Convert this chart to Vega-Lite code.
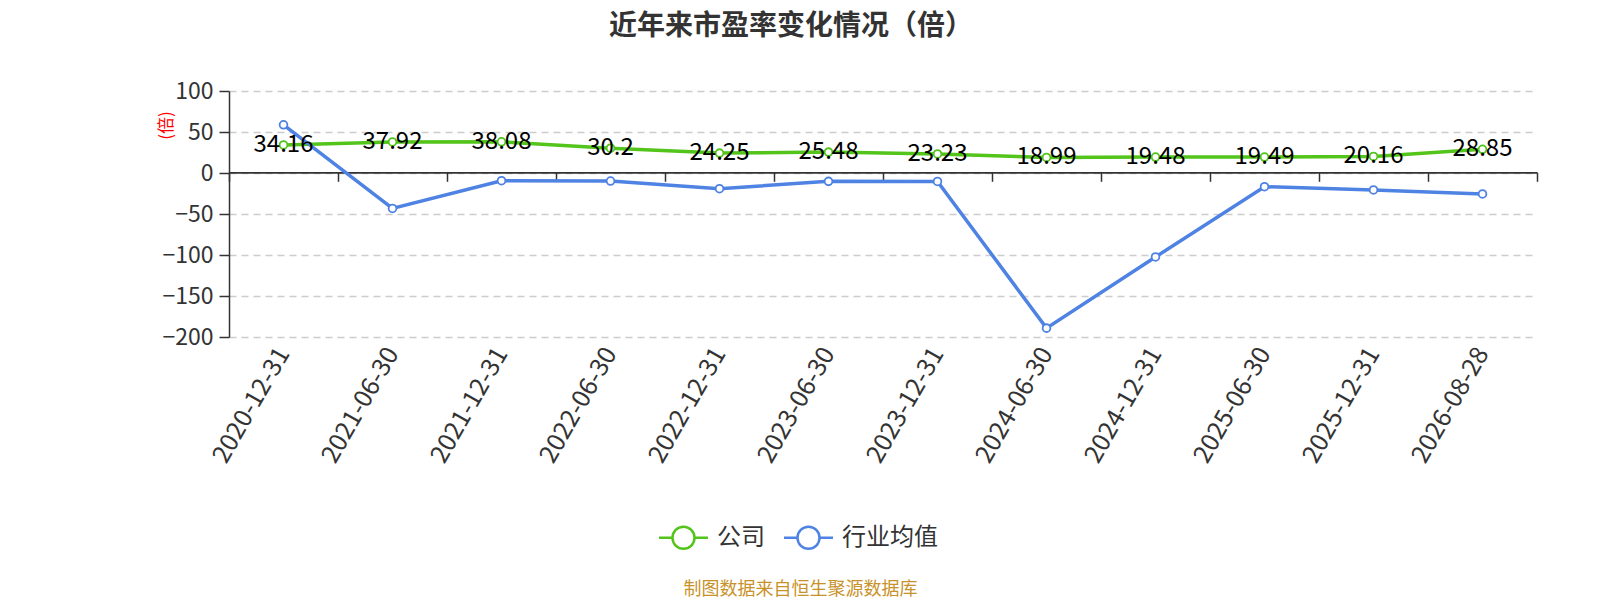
{
  "$schema": "https://vega.github.io/schema/vega-lite/v6.json",
  "description": "近年来市盈率变化情况（倍）",
  "autosize": "none",
  "width": 1308,
  "height": 246,
  "padding": {"left": 229, "top": 91, "right": 63, "bottom": 263},
  "background": "white",
  "title": {
    "text": "近年来市盈率变化情况（倍）",
    "fontSize": 28,
    "fontWeight": "bold",
    "color": "#333333",
    "anchor": "middle",
    "frame": "group",
    "dx": -92,
    "offset": 39
  },
  "data": {
    "values": [
      {"date": "2020-12-31", "series": "公司", "pe": 34.16},
      {"date": "2021-06-30", "series": "公司", "pe": 37.92},
      {"date": "2021-12-31", "series": "公司", "pe": 38.08},
      {"date": "2022-06-30", "series": "公司", "pe": 30.2},
      {"date": "2022-12-31", "series": "公司", "pe": 24.25},
      {"date": "2023-06-30", "series": "公司", "pe": 25.48},
      {"date": "2023-12-31", "series": "公司", "pe": 23.23},
      {"date": "2024-06-30", "series": "公司", "pe": 18.99},
      {"date": "2024-12-31", "series": "公司", "pe": 19.48},
      {"date": "2025-06-30", "series": "公司", "pe": 19.49},
      {"date": "2025-12-31", "series": "公司", "pe": 20.16},
      {"date": "2026-08-28", "series": "公司", "pe": 28.85},
      {"date": "2020-12-31", "series": "行业均值", "pe": 58.8},
      {"date": "2021-06-30", "series": "行业均值", "pe": -43.2},
      {"date": "2021-12-31", "series": "行业均值", "pe": -9.4},
      {"date": "2022-06-30", "series": "行业均值", "pe": -9.8},
      {"date": "2022-12-31", "series": "行业均值", "pe": -19.1},
      {"date": "2023-06-30", "series": "行业均值", "pe": -10.2},
      {"date": "2023-12-31", "series": "行业均值", "pe": -10.3},
      {"date": "2024-06-30", "series": "行业均值", "pe": -189.2},
      {"date": "2024-12-31", "series": "行业均值", "pe": -102.4},
      {"date": "2025-06-30", "series": "行业均值", "pe": -16.7},
      {"date": "2025-12-31", "series": "行业均值", "pe": -20.7},
      {"date": "2026-08-28", "series": "行业均值", "pe": -25.6}
    ]
  },
  "encoding": {
    "y": {
      "field": "pe",
      "type": "quantitative",
      "scale": {"domain": [-200, 100], "nice": false, "zero": false},
      "axis": {
        "title": "(倍)",
        "titleColor": "#ff0000",
        "titleFontSize": 17,
        "titleFontWeight": "normal",
        "titleX": -54,
        "titleY": 34,
        "titleAlign": "center",
        "values": [-200, -150, -100, -50, 0, 50, 100],
        "labelFontSize": 23,
        "labelColor": "#333333",
        "labelPadding": 6,
        "domainColor": "#333333",
        "domainWidth": 1.5,
        "tickColor": "#333333",
        "tickWidth": 1.5,
        "tickSize": 10,
        "grid": true,
        "gridColor": "#cccccc",
        "gridDash": [7, 5],
        "gridWidth": 1.3
      }
    }
  },
  "layer": [
    {
      "mark": {
        "type": "line",
        "strokeWidth": 3.5,
        "point": {"filled": false, "fill": "white", "size": 60, "strokeWidth": 1.8}
      },
      "encoding": {
        "x": {
          "field": "date",
          "type": "ordinal",
          "sort": null,
          "scale": {"type": "band", "paddingInner": 0, "paddingOuter": 0},
          "axis": {
            "orient": "bottom",
            "domain": false,
            "ticks": false,
            "grid": false,
            "labelAngle": -60,
            "labelAlign": "right",
            "labelBaseline": "middle",
            "labelFontSize": 25,
            "labelColor": "#333333",
            "labelPadding": 12,
            "title": "制图数据来自恒生聚源数据库",
            "titleColor": "#c8922a",
            "titleFontSize": 18,
            "titleFontWeight": "normal",
            "titleX": 571,
            "titleY": 252,
            "titleAlign": "center",
            "titleBaseline": "middle"
          }
        },
        "color": {
          "field": "series",
          "type": "nominal",
          "scale": {"domain": ["公司", "行业均值"], "range": ["#52c41a", "#4e82e3"]},
          "legend": {
            "title": null,
            "orient": "none",
            "direction": "horizontal",
            "legendX": 441,
            "legendY": 433,
            "padding": 0,
            "symbolType": "M-2,0L-0.9,0M0.9,0L2,0M-0.9,0A0.9,0.9,0,1,0,0.9,0A0.9,0.9,0,1,0,-0.9,0Z",
            "symbolSize": 600,
            "symbolStrokeWidth": 2.5,
            "labelFontSize": 24,
            "labelColor": "#333333",
            "labelOffset": 20,
            "columnPadding": 14,
            "encode": {"symbols": {"update": {"fill": {"value": "white"}}}}
          }
        }
      }
    },
    {
      "transform": [{"filter": "datum.series === '公司'"}],
      "mark": {
        "type": "text",
        "fontSize": 24,
        "color": "#000000",
        "baseline": "alphabetic",
        "dy": 7
      },
      "encoding": {
        "x": {
          "field": "date",
          "type": "ordinal",
          "sort": null,
          "axis": {
            "orient": "bottom",
            "offset": -164.7,
            "labels": false,
            "title": null,
            "grid": false,
            "domainColor": "#333333",
            "domainWidth": 1.8,
            "tickColor": "#333333",
            "tickWidth": 1.5,
            "tickSize": 9,
            "tickBand": "extent"
          }
        },
        "text": {"field": "pe", "type": "quantitative"}
      }
    }
  ],
  "resolve": {"axis": {"x": "independent"}},
  "config": {
    "font": "Noto Sans CJK SC",
    "view": {"stroke": null}
  }
}
